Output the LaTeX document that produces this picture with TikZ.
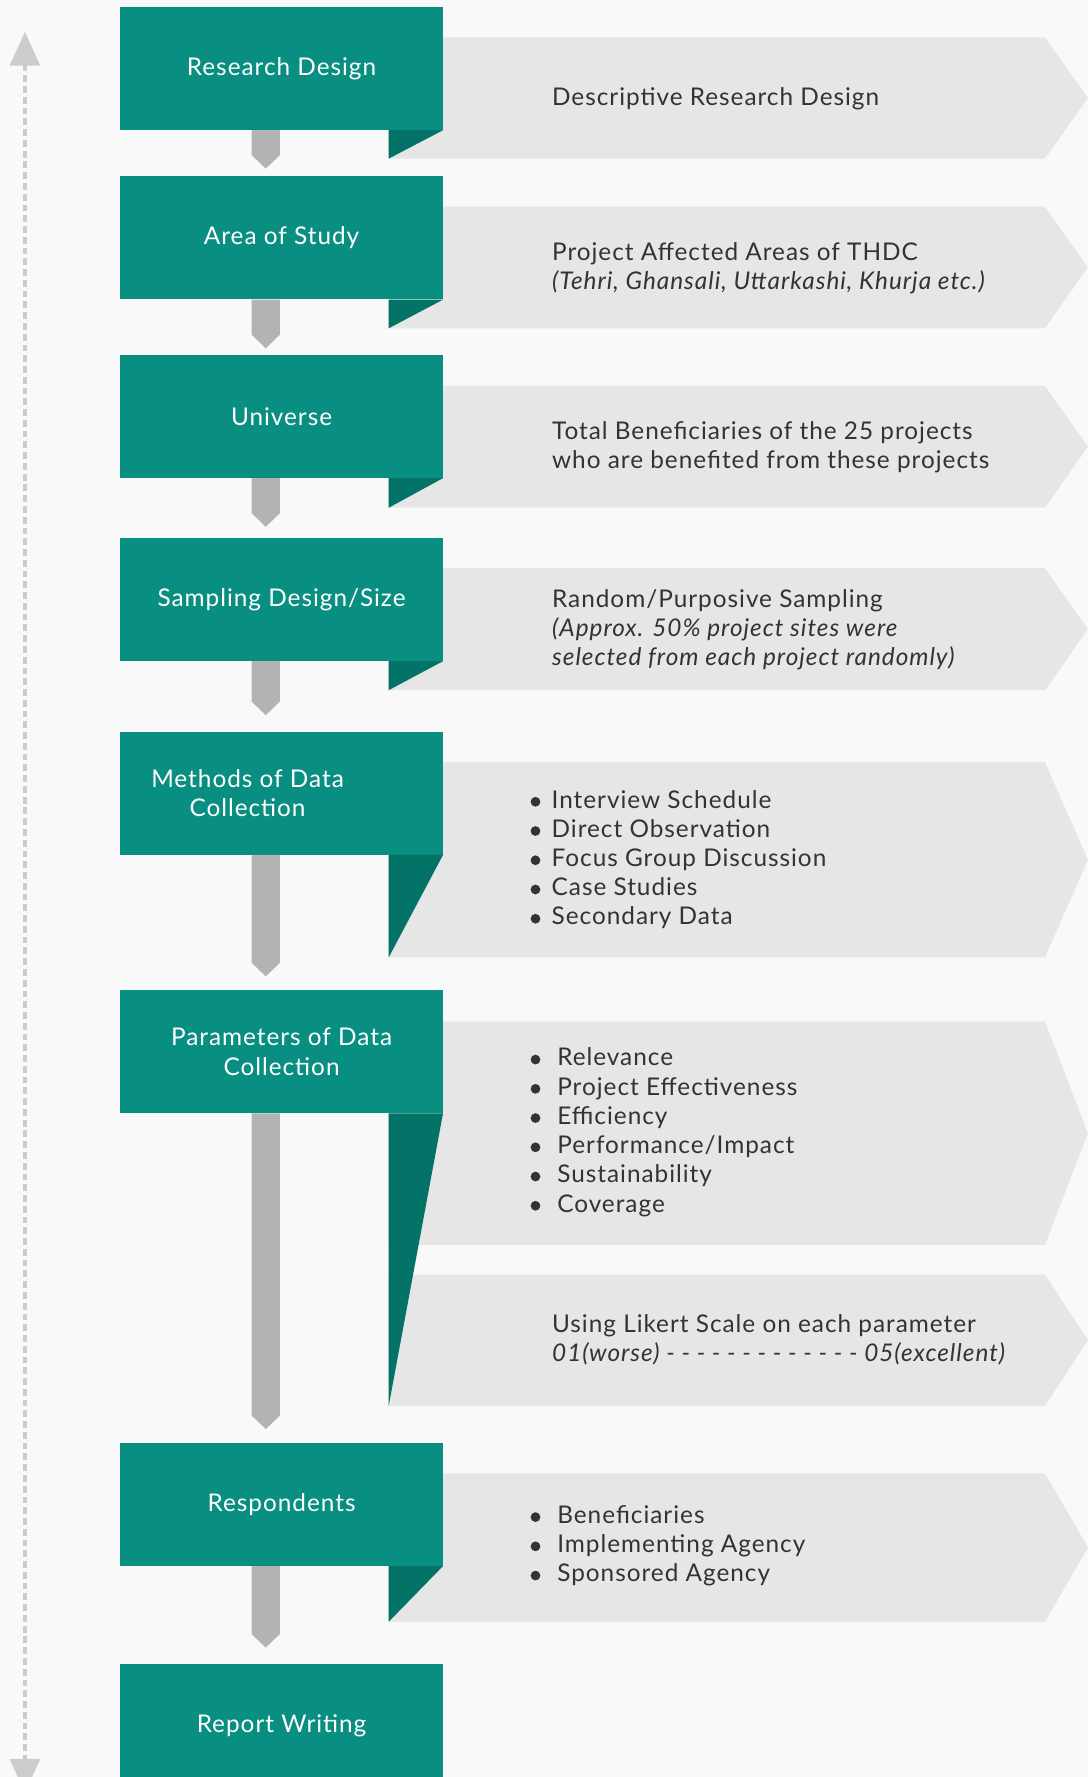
\documentclass[tikz,border=0pt]{standalone}
\usepackage{fontspec}
\setmainfont{Lato}[LetterSpace=4]
\usetikzlibrary{calc, arrows.meta}

\definecolor{stepteal}{RGB}{8,143,129}
\definecolor{folddark}{RGB}{4,115,103}
\definecolor{bangray}{RGB}{230,230,230}
\definecolor{bargray}{RGB}{179,179,179}
\definecolor{arrowgray}{RGB}{204,204,204}
\definecolor{bggray}{RGB}{249,249,249}
\definecolor{txtgray}{RGB}{51,51,51}

\newcommand{\mainsz}{\fontsize{21.5}{25.8}\selectfont}
\newcommand{\bul}{\tikz[baseline=-5.5pt]\fill[txtgray] (0pt,0pt) circle (4.3pt);}
% gray bar with a chevron end, from one box to the next
\newcommand{\linkbar}[3]{%
  \fill[linkbar] ($(#1.south west)+(116,0)$) -- ($(#1.south west)+(141,0)$)
    -- ($(#2.north west)+(141,-#3-12)$) -- ($(#2.north west)+(128.5,-#3)$)
    -- ($(#2.north west)+(116,-#3-12)$) -- cycle;}

\begin{document}
\begin{tikzpicture}[x=1pt, y=-1pt,
    stepbox/.style={rectangle, fill=stepteal, text=white, anchor=north west, minimum width=284.5pt,
      minimum height=108.5pt, inner sep=0pt, align=center, font=\mainsz},
    boxtext/.style={text=white, inner sep=0pt, align=center, font=\mainsz},
    bantext/.style={anchor=west, inner sep=0pt, align=left, text=txtgray, font=\mainsz},
    banner/.style={fill=bangray},
    fold/.style={fill=folddark},
    linkbar/.style={fill=bargray},
    timeline/.style={draw=arrowgray, line width=4pt, dash pattern=on 6pt off 3.5pt,
      >={Triangle[width=26pt,length=30pt]}, <->}]

    \useasboundingbox (0,0) rectangle (960,1568);
    \fill[bggray] (0,0) rectangle (960,1568);

    % time line on the left
    \coordinate (top) at (22,28);
    \coordinate (bot) at (22,1582);
    \draw[timeline] (top) -- (bot);

    % gray banners
    \fill[banner] (343,33) -- (922,33) -- (960,86.5) -- (922,140) -- (343,140) -- cycle;
    \fill[banner] (343,182.3) -- (922,182.3) -- (960,236) -- (922,289.7) -- (343,289.7) -- cycle;
    \fill[banner] (343,340.4) -- (922,340.4) -- (960,394.2) -- (922,448) -- (343,448) -- cycle;
    \fill[banner] (343,501.3) -- (922,501.3) -- (960,555.2) -- (922,609) -- (343,609) -- cycle;
    \fill[banner] (343,672.5) -- (922,672.5) -- (960,758.7) -- (922,844.8) -- (343,844.8) -- cycle;
    \fill[banner] (343,901.5) -- (922,901.5) -- (960,1000) -- (922,1098.5) -- (343,1098.5) -- cycle;
    \fill[banner] (343,1124.6) -- (922,1124.6) -- (960,1182.5) -- (922,1240.5) -- (343,1240.5) -- cycle;
    \fill[banner] (343,1300) -- (922,1300) -- (960,1365.5) -- (922,1431) -- (343,1431) -- cycle;

    % teal steps
    \node[stepbox] (b1) at (106,6) {Research Design};
    \node[stepbox] (b2) at (106,155.5) {Area of Study};
    \node[stepbox] (b3) at (106,313) {Universe};
    \node[stepbox] (b4) at (106,474.5) {Sampling Design/Size};
    \node[stepbox] (b5) at (106,645.5) {};
    \node[boxtext] (b5t) at ([xshift=-30pt]b5.center) {Methods of Data\\Collection};
    \node[stepbox] (b6) at (106,873.5) {Parameters of Data\\Collection};
    \node[stepbox] (b7) at (106,1273) {Respondents};
    \node[stepbox] (b8) at (106,1468.5) {Report Writing};

    \linkbar{b1}{b2}{6.7}
    \linkbar{b2}{b3}{5.7}
    \linkbar{b3}{b4}{9.7}
    \linkbar{b4}{b5}{14.5}
    \linkbar{b5}{b6}{12}
    \linkbar{b6}{b7}{12}
    \linkbar{b7}{b8}{14.7}

    % folded corners
    \fill[fold] (b1.south east) -- ($(b1.south west)+(237,0)$) -- (343,140) -- cycle;
    \fill[fold] (b2.south east) -- ($(b2.south west)+(237,0)$) -- (343,289.7) -- cycle;
    \fill[fold] (b3.south east) -- ($(b3.south west)+(237,0)$) -- (343,448) -- cycle;
    \fill[fold] (b4.south east) -- ($(b4.south west)+(237,0)$) -- (343,609) -- cycle;
    \fill[fold] (b5.south east) -- ($(b5.south west)+(237,0)$) -- (343,844.8) -- cycle;
    \fill[fold] (b6.south east) -- ($(b6.south west)+(237,0)$) -- (343,1240.5) -- cycle;
    \fill[fold] (b7.south east) -- ($(b7.south west)+(237,0)$) -- (343,1431) -- cycle;

    % banner texts
    \node[bantext] (t1) at (487,87.5) {Descriptive Research Design};
    \node[bantext] (t2) at (487,236.5) {Project Affected Areas of THDC\\\textit{(Tehri, Ghansali, Uttarkashi, Khurja etc.)}};
    \node[bantext] (t3) at (487,394.5) {Total Beneficiaries of the 25 projects\\who are benefited from these projects};
    \node[bantext] (t4) at (487,555.5) {Random/Purposive Sampling\\\textit{(Approx. 50\% project sites were}\\\textit{selected from each project randomly)}};
    \node[bantext] (t5) at (468,758.5) {\bul\hspace{10pt}Interview Schedule\\\bul\hspace{10pt}Direct Observation\\\bul\hspace{10pt}Focus Group Discussion\\\bul\hspace{10pt}Case Studies\\\bul\hspace{10pt}Secondary Data};
    \node[bantext] (t6) at (468,999) {\bul\hspace{15pt}Relevance\\\bul\hspace{15pt}Project Effectiveness\\\bul\hspace{15pt}Efficiency\\\bul\hspace{15pt}Performance/Impact\\\bul\hspace{15pt}Sustainability\\\bul\hspace{15pt}Coverage};
    \node[bantext] (t7) at (487,1182.5) {Using Likert Scale on each parameter\\\textit{01(worse) - - - - - - - - - - - - - 05(excellent)}};
    \node[bantext] (t8) at (468,1364) {\bul\hspace{15pt}Beneficiaries\\\bul\hspace{15pt}Implementing Agency\\\bul\hspace{15pt}Sponsored Agency};
\end{tikzpicture}
\end{document}
